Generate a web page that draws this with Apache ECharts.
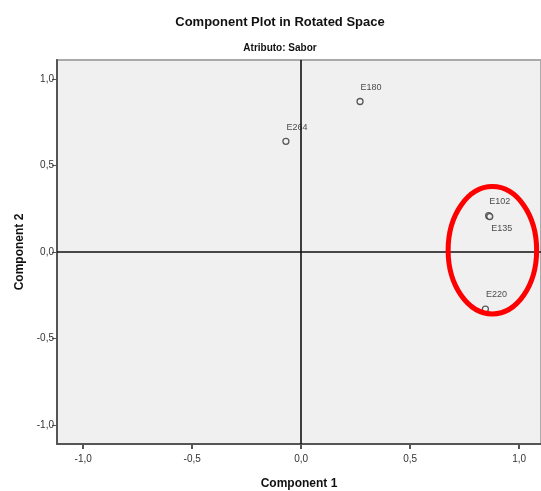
<!DOCTYPE html>
<html>
<head>
<meta charset="utf-8">
<script src="https://cdn.jsdelivr.net/npm/echarts@6/dist/echarts.min.js"></script>
<style>html,body{margin:0;padding:0;background:#fff;}#c{width:541px;height:491px;}</style>
</head>
<body>
<div id="c"></div>
<script>
const names = ['E180', 'E264', 'E102', 'E135', 'E220'];
const comp1 = [0.27, -0.07, 0.86, 0.865, 0.845];
const comp2 = [0.87, 0.64, 0.21, 0.205, -0.33];
const labelSide = ['above', 'above', 'above', 'below', 'above'];
const tickValues = [-1.0, -0.5, 0.0, 0.5, 1.0];
const highlight = [0.877, 0.01, 0.203, 0.368]; // center x, center y, radius x, radius y (data units)

const fmt = v => v.toFixed(1).replace('.', ',');
const font = 'Liberation Sans, Arial, sans-serif';

const points = names.map((n, i) => ({
  value: [comp1[i], comp2[i]],
  name: n,
  label: {
    show: true,
    formatter: n,
    position: labelSide[i] === 'above' ? 'top' : 'bottom',
    offset: labelSide[i] === 'above' ? [11, -1] : [12, -1]
  }
}));

const chart = echarts.init(document.getElementById('c'), null, {renderer: 'canvas'});
chart.setOption({
  animation: false,
  backgroundColor: '#ffffff',
  title: [
    {text: 'Component Plot in Rotated Space', left: 275, top: 11, textAlign: 'center',
     textStyle: {fontFamily: font, fontWeight: 'bold', fontSize: 13, color: '#111'}},
    {text: 'Atributo: Sabor', left: 275, top: 38, textAlign: 'center',
     textStyle: {fontFamily: font, fontWeight: 'bold', fontSize: 10, color: '#111'}}
  ],
  grid: {left: 57, right: 0, top: 60, bottom: 47, show: true, backgroundColor: '#f0f0f0',
         borderColor: '#aaa', borderWidth: 2, containLabel: false, outerBoundsMode: 'none'},
  xAxis: {
    type: 'value', min: -1.12, max: 1.10,
    name: 'Component 1', nameLocation: 'middle', nameGap: 34,
    nameTextStyle: {fontFamily: font, fontWeight: 'bold', fontSize: 12, color: '#111'},
    axisLine: {show: true, onZero: false, lineStyle: {color: '#555', width: 2}},
    axisTick: {show: true, length: 5, customValues: tickValues, lineStyle: {color: '#555', width: 2}},
    axisLabel: {customValues: tickValues, formatter: fmt, fontFamily: font, fontSize: 10, color: '#333', margin: 10},
    splitLine: {show: false}
  },
  yAxis: {
    type: 'value', min: -1.11, max: 1.11,
    name: 'Component 2', nameLocation: 'middle', nameGap: 31,
    nameTextStyle: {fontFamily: font, fontWeight: 'bold', fontSize: 12, color: '#111'},
    axisLine: {show: true, onZero: false, lineStyle: {color: '#555', width: 2}},
    axisTick: {show: true, length: 5, customValues: tickValues, lineStyle: {color: '#555', width: 1}},
    axisLabel: {customValues: tickValues, formatter: fmt, fontFamily: font, fontSize: 10, color: '#333', margin: 3},
    splitLine: {show: false}
  },
  series: [{
    type: 'scatter',
    data: points,
    symbol: 'circle',
    symbolSize: 6,
    itemStyle: {color: '#f4f4f4', borderColor: '#333', borderWidth: 1.3},
    label: {fontFamily: font, fontSize: 9, color: '#222'},
    markLine: {
      silent: true, symbol: ['none', 'none'],
      label: {show: false},
      lineStyle: {color: '#111', width: 1.6, type: 'solid'},
      data: [{xAxis: 0}, {yAxis: 0}]
    }
  }]
});

function drawHighlight() {
  const c = chart.convertToPixel({gridIndex: 0}, [highlight[0], highlight[1]]);
  const e = chart.convertToPixel({gridIndex: 0}, [highlight[0] + highlight[2], highlight[1] + highlight[3]]);
  chart.setOption({
    graphic: [{
      type: 'ellipse', z: 100,
      shape: {cx: c[0], cy: c[1], rx: Math.abs(e[0] - c[0]), ry: Math.abs(c[1] - e[1])},
      style: {fill: 'none', stroke: '#ff0000', lineWidth: 5}
    }]
  });
}
drawHighlight();
</script>
</body>
</html>
